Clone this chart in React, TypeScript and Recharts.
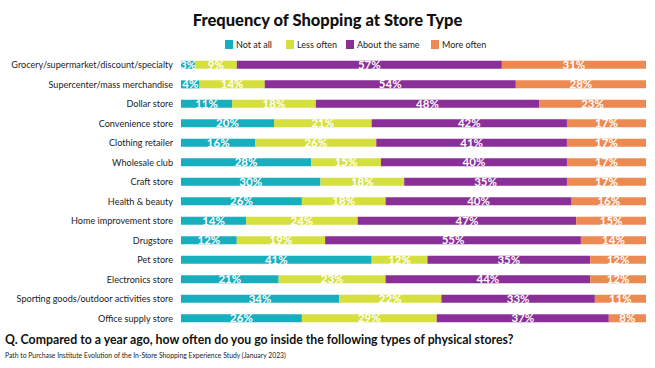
import React from 'react';
import { BarChart, Bar, XAxis, YAxis, LabelList } from 'recharts';

const categories = [
  'Grocery/supermarket/discount/specialty',
  'Supercenter/mass merchandise',
  'Dollar store',
  'Convenience store',
  'Clothing retailer',
  'Wholesale club',
  'Craft store',
  'Health & beauty',
  'Home improvement store',
  'Drugstore',
  'Pet store',
  'Electronics store',
  'Sporting goods/outdoor activities store',
  'Office supply store',
];
const notAtAll = [3, 4, 11, 20, 16, 28, 30, 26, 14, 12, 41, 21, 34, 26];
const lessOften = [9, 14, 18, 21, 26, 15, 18, 18, 24, 19, 12, 23, 22, 29];
const aboutSame = [57, 54, 48, 42, 41, 40, 35, 40, 47, 55, 35, 44, 33, 37];
const moreOften = [31, 28, 23, 17, 17, 17, 17, 16, 15, 14, 12, 12, 11, 8];

const seriesNames = ['Not at all', 'Less often', 'About the same', 'More often'];
const colors = ['#17AEBD', '#D5DF3E', '#8A2E98', '#EC8A52'];
const legendX = [225, 286, 346, 431];

const data = categories.map((c, i) => ({
  name: c,
  a: notAtAll[i],
  b: lessOften[i],
  c: aboutSame[i],
  d: moreOften[i],
}));
const keys = ['a', 'b', 'c', 'd'];

const FONT = 'Lato, "Open Sans", sans-serif';

const Tick = (props: any) => {
  const { x, y, payload } = props;
  return (
    <text x={x} y={y} dy={3.5} textAnchor="end" fontSize={9.1} fill="#222" fontFamily={FONT}>
      {payload.value}
    </text>
  );
};

export default function App() {
  return (
    <div style={{ position: 'absolute', left: 0, top: 0, width: 655, height: 368, background: '#fff', fontFamily: FONT }}>
      <div style={{ position: 'absolute', left: 0, width: 655, top: 10, textAlign: 'center', fontSize: 16.5, fontWeight: 900, color: '#111', lineHeight: '20px' }}>
        Frequency of Shopping at Store Type
      </div>
      {seriesNames.map((n, i) => (
        <div key={n} style={{ position: 'absolute', left: legendX[i], top: 38, height: 12, display: 'flex', alignItems: 'center', fontSize: 9, color: '#222' }}>
          <span style={{ width: 8, height: 9, background: colors[i], display: 'inline-block', marginRight: 3 }} />
          <span>{n}</span>
        </div>
      ))}
      <BarChart
        width={655}
        height={368}
        data={data}
        layout="vertical"
        margin={{ top: 55, right: 9, bottom: 40, left: 0 }}
        barCategoryGap="30%"
      >
        <XAxis type="number" domain={[0, 100]} hide />
        <YAxis
          type="category"
          dataKey="name"
          width={181}
          tickLine={false}
          axisLine={false}
          tick={<Tick />}
          tickMargin={2}
          interval={0}
        />
        {keys.map((k, i) => (
          <Bar key={k} dataKey={k} stackId="s" fill={colors[i]} isAnimationActive={false} name={seriesNames[i]}>
            <LabelList
              dataKey={k}
              position="center"
              formatter={(v: number) => `${v}%`}
              style={{ fill: '#fff', fontSize: 11.5, fontWeight: 700, fontFamily: FONT }}
            />
          </Bar>
        ))}
      </BarChart>
      <div style={{ position: 'absolute', left: 5, top: 332, fontSize: 12.3, fontWeight: 700, color: '#111', whiteSpace: 'nowrap' }}>
        Q. Compared to a year ago, how often do you go inside the following types of physical stores?
      </div>
      <div style={{ position: 'absolute', left: 5, top: 351, fontSize: 6.8, color: '#222', whiteSpace: 'nowrap' }}>
        Path to Purchase Institute Evolution of the In-Store Shopping Experience Study (January 2023)
      </div>
    </div>
  );
}
